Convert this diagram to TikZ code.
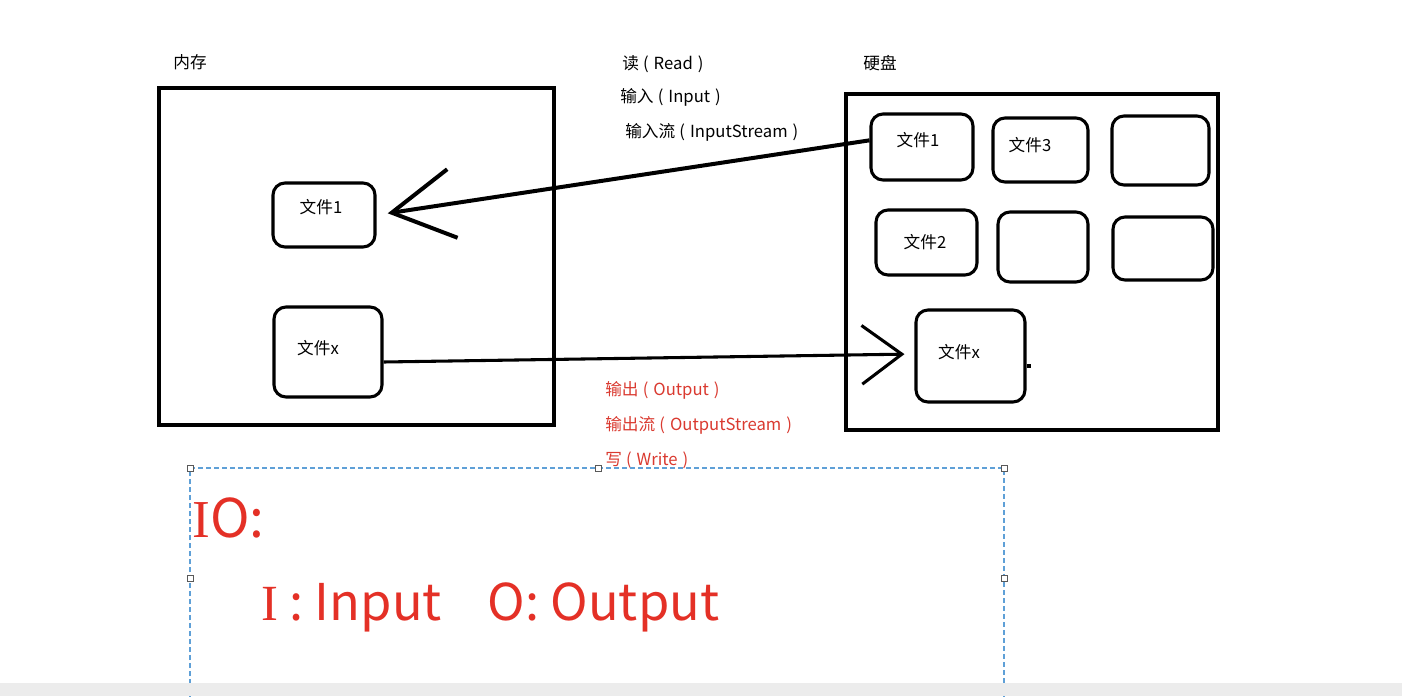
\documentclass[tikz,border=0pt]{standalone}
\usepackage{fontspec}
\setmainfont{Noto Sans CJK SC}
\newfontfamily\serifI{Liberation Serif}
\usetikzlibrary{arrows.meta}
\definecolor{redtxt}{RGB}{228,48,38}
\definecolor{redlab}{RGB}{218,58,48}
\definecolor{selblue}{RGB}{95,160,215}
\definecolor{barbg}{RGB}{236,236,236}
\newcommand{\lp}{\hspace{0.25em}(\hspace{0.3em}}
\newcommand{\rp}{\hspace{0.3em})}
\begin{document}
\begin{tikzpicture}[x=0.75pt,y=-0.75pt,
  bigbox/.style 2 args={draw=black,line width=2.6pt,minimum width=#1*0.75pt,minimum height=#2*0.75pt,inner sep=0pt},
  filebox/.style 2 args={draw=black,line width=2.3pt,rounded corners=9pt,minimum width=#1*0.75pt,minimum height=#2*0.75pt,inner sep=0pt},
  lbl/.style={inner sep=0pt,font=\fontsize{12.5pt}{14pt}\selectfont},
  lblw/.style={lbl,anchor=west},
  redlbl/.style={lblw,text=redlab},
  handle/.style={draw=black!65,fill=white,line width=0.6pt,minimum size=4.5pt,inner sep=0pt},
  bigtxt/.style={inner sep=0pt,anchor=base west,text=redtxt}]
\useasboundingbox (0,0) rectangle (1402,696);
\fill[white] (0,0) rectangle (1402,696);

% memory
\node[bigbox={395}{337}] (mem) at (356.5,256.5) {};
\node[lbl] (memlbl) at (190,62) {内存};
\node[filebox={102}{64}] (lf1) at (324,215) {};
\node[lbl] (lf1t) at (321,207) {文件1};
\node[filebox={108}{90}] (lfx) at (328,352) {};
\node[lbl] (lfxt) at (318,348) {文件x};

% disk
\node[bigbox={372}{336}] (disk) at (1032,262) {};
\node[lbl] (disklbl) at (880,63) {硬盘};
\node[filebox={102}{66}] (rf1) at (922,147) {};
\node[lbl] (rf1t) at (918,140) {文件1};
\node[filebox={95}{64}] (rf3) at (1040.5,150) {};
\node[lbl] (rf3t) at (1030,145) {文件3};
\node[filebox={97}{69}] (re1) at (1160.5,150.5) {};
\node[filebox={101}{65}] (rf2) at (926.5,242.5) {};
\node[lbl] (rf2t) at (925,242) {文件2};
\node[filebox={90}{70}] (re2) at (1043,247) {};
\node[filebox={100}{63}] (re3) at (1163,248.5) {};
\node[filebox={109}{92}] (rfx) at (970.5,356) {};
\node[lbl] (rfxt) at (959,352) {文件x};
\draw[line width=2.3pt] ([yshift=-7.5pt]rfx.east) -- ++(4,0);

% read arrow
\draw[line width=3pt,shorten >=8.5pt,-{Straight Barb[length=46pt,width=52pt]}]
  ([yshift=5pt]rf1.west) -- (lf1.east);
\node[lblw] (r1) at (622,64) {读\lp Read\rp};
\node[lblw] (r2) at (620,97) {输入\lp Input\rp};
\node[lblw] (r3) at (625,132) {输入流\lp InputStream\rp};

% write arrow
\draw[line width=2.3pt,shorten >=7.5pt,-{Straight Barb[length=30pt,width=44pt]}]
  ([yshift=-7.5pt]lfx.east) -- ([yshift=1.5pt]rfx.west);
\node[redlbl] (w1) at (605,390) {输出\lp Output\rp};
\node[redlbl] (w2) at (605,425) {输出流\lp OutputStream\rp};
\node[redlbl] (w3) at (605,460) {写\lp Write\rp};

% selection frame
\coordinate (s1) at (190,700);
\coordinate (s2) at (190,468);
\coordinate (s3) at (1004,468);
\coordinate (s4) at (1004,700);
\draw[selblue,line width=0.8pt,dash pattern=on 3.5pt off 2.5pt] (s1) -- (s2) -- (s3) -- (s4);
\node[handle] (h1) at (190,468) {};
\node[handle] (h2) at (598,468) {};
\node[handle] (h3) at (1004,468) {};
\node[handle] (h4) at (190,578) {};
\node[handle] (h5) at (1004,578) {};

\node[bigtxt,font=\fontsize{40pt}{45pt}\selectfont] (io) at (192,537) {{\serifI I}O:};
\node[bigtxt,font=\fontsize{38pt}{42pt}\selectfont] (iodef) at (261,620) {{\serifI I} : Input\hspace{0.9em}O: Output};

\fill[barbg] (0,683) rectangle (1402,696);
\end{tikzpicture}
\end{document}
